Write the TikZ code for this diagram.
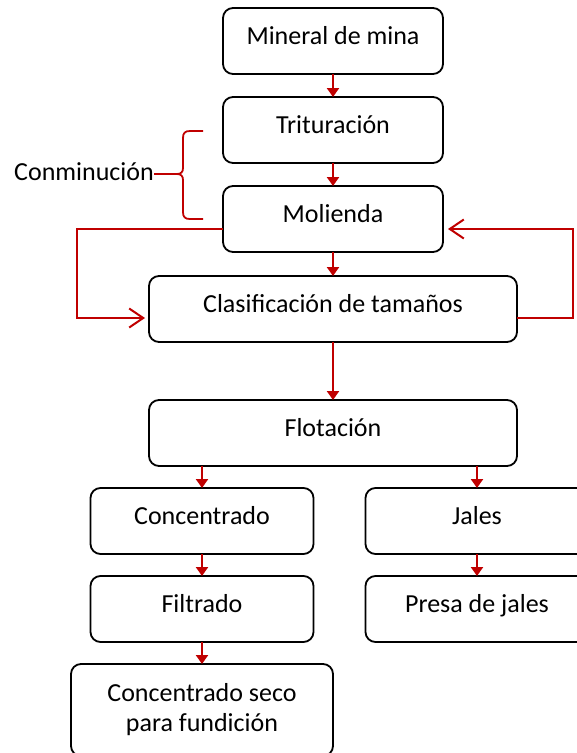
\documentclass[tikz,border=0pt]{standalone}
\usepackage{fontspec}
\setmainfont{Carlito}
\usetikzlibrary{arrows.meta,positioning}
\definecolor{darkred}{RGB}{192,0,0}

\begin{document}
\begin{tikzpicture}[x=1pt,y=-1pt,>={Triangle[length=9pt,width=12pt]},node distance=23pt,
font=\fontsize{26}{30}\selectfont]
\tikzstyle{base}=[draw=black,line width=1.8pt,rounded corners=10pt,align=center,inner sep=0pt,outer sep=0pt]
\tikzstyle{proc}=[base,minimum height=66pt,text height=18pt,text depth=12pt]
\tikzstyle{flow}=[->,darkred,line width=2.6pt]
\tikzstyle{back}=[-{Straight Barb[length=14pt,width=19pt]},darkred,line width=2pt]
\tikzstyle{brc}=[darkred,line width=1.8pt]

\useasboundingbox (0,0) rectangle (577,753);
\clip (0,0) rectangle (577,753);

\node[proc,minimum width=220pt] (A) at (333,41) {Mineral de mina};
\node[proc,minimum width=220pt] (B) [below=of A] {Trituración};
\node[proc,minimum width=220pt] (C) [below=of B] {Molienda};
\node[proc,minimum width=368pt] (D) [below=24pt of C] {Clasificación de tamaños};
\node[proc,minimum width=368pt] (E) [below=58pt of D] {Flotación};
\node[proc,minimum width=223pt] (F) at (202,521) {Concentrado};
\node[proc,minimum width=223pt] (G) at (477,521) {Jales};
\node[proc,minimum width=223pt] (H) [below=22pt of F] {Filtrado};
\node[proc,minimum width=223pt] (I) [below=22pt of G] {Presa de jales};
\node[base,minimum width=262pt,minimum height=92pt] (J) [below=22pt of H] {Concentrado seco\\para fundición};

% brace for the two size reduction steps
\coordinate (tip) at (177,174);
\node[inner sep=0pt,text height=18pt,text depth=6pt,anchor=west] (K) at (14,174) {Conminución};
\draw[brc] (203,131) -- (190,131) .. controls (185,131) and (183,133) .. (183,138)
  -- (183,168) .. controls (183,172) and (181,174) .. (tip)
  .. controls (181,174) and (183,176) .. (183,180) -- (183,212)
  .. controls (183,217) and (185,219) .. (190,219) -- (203,219);
\draw[brc] (K) -- (tip);

\path[flow] (A) edge (B)
(B) edge (C)
(C) edge (D)
(D) edge (E)
(E.south -| F) edge (F)
(E.south -| G) edge (G)
(F) edge (H)
(G) edge (I)
(H) edge (J);

% recirculation
\draw[back,shorten >=4pt] ([yshift=-10pt]C.west) -- ++(-146,0) |- ([yshift=-9pt]D.west);
\draw[back,shorten >=5pt] ([yshift=-9pt]D.east) -- ++(56,0) |- ([yshift=-10pt]C.east);
\end{tikzpicture}
\end{document}
